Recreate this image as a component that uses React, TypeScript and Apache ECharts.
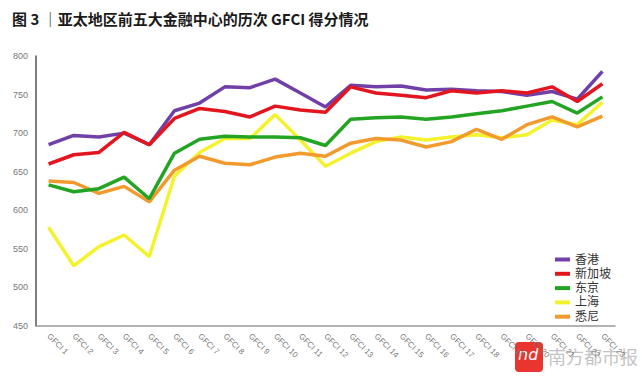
import React, { useEffect, useRef } from "react";
import * as echarts from "echarts";

const categories = [
  "GFCI 1","GFCI 2","GFCI 3","GFCI 4","GFCI 5","GFCI 6","GFCI 7","GFCI 8","GFCI 9","GFCI 10",
  "GFCI 11","GFCI 12","GFCI 13","GFCI 14","GFCI 15","GFCI 16","GFCI 17","GFCI 18","GFCI 19",
  "GFCI 20","GFCI 21","GFCI 22","GFCI 23",
];
const hongKong = [685, 697, 695, 700, 685, 729, 739, 760, 759, 770, 752, 734, 762, 760, 761, 756, 757, 755, 754, 749, 754, 744, 780];
const singapore = [660, 672, 675, 701, 685, 719, 732, 728, 721, 735, 730, 727, 760, 752, 749, 746, 755, 752, 755, 752, 760, 741, 764];
const tokyo = [633, 624, 628, 643, 615, 674, 692, 696, 695, 695, 694, 684, 718, 720, 721, 718, 721, 725, 729, 735, 741, 726, 747];
const shanghai = [578, 528, 553, 568, 540, 644, 675, 693, 693, 724, 691, 657, 674, 689, 695, 691, 695, 698, 694, 698, 717, 711, 740];
const sydney = [638, 636, 622, 631, 611, 652, 670, 661, 659, 669, 674, 670, 687, 693, 691, 682, 689, 705, 692, 711, 721, 708, 722];
const yTicks = [450, 500, 550, 600, 650, 700, 750, 800];

const seriesDefs = [
  { name: "上海", data: shanghai, color: "#f4f22c" },
  { name: "悉尼", data: sydney, color: "#f29a2e" },
  { name: "东京", data: tokyo, color: "#23a523" },
  { name: "香港", data: hongKong, color: "#7040a8" },
  { name: "新加坡", data: singapore, color: "#e3161f" },
];
const legendOrder = ["香港", "新加坡", "东京", "上海", "悉尼"];

export default function App() {
  const ref = useRef<HTMLDivElement>(null);
  useEffect(() => {
    if (!ref.current) return;
    const chart = echarts.init(ref.current, null, { renderer: "svg" });
    chart.setOption({
      animation: false,
      backgroundColor: "#ffffff",
      title: {
        text: "图 3 │亚太地区前五大金融中心的历次 GFCI 得分情况",
        left: 7,
        top: 6,
        textStyle: {
          fontSize: 15,
          fontWeight: "bold",
          color: "#1a1a1a",
          fontFamily: "Noto Sans CJK SC, sans-serif",
        },
      },
      legend: {
        data: legendOrder,
        orient: "vertical",
        left: 550,
        top: 248,
        icon: "rect",
        itemWidth: 15,
        itemHeight: 4,
        itemGap: 1.3,
        textStyle: {
          fontSize: 12,
          lineHeight: 13,
          color: "#333",
          fontFamily: "Liberation Sans, Noto Sans CJK SC, sans-serif",
        },
      },
      grid: { left: 36, right: 26, top: 56, bottom: 50 },
      xAxis: {
        type: "category",
        data: categories,
        boundaryGap: true,
        axisLine: { show: true, lineStyle: { color: "#999", width: 1.5 } },
        axisTick: { show: false },
        axisLabel: { rotate: -45, fontSize: 8, color: "#777", interval: 0, margin: 9 },
      },
      yAxis: {
        type: "value",
        min: 450,
        max: 800,
        interval: 50,
        axisLine: { show: true, lineStyle: { color: "#555", width: 1.5 } },
        axisTick: { show: false },
        splitLine: { show: false },
        axisLabel: {
          fontSize: 9,
          color: "#777",
          margin: 8,
          formatter: (v: number) => (yTicks.includes(v) ? String(v) : ""),
        },
      },
      series: seriesDefs.map((s) => ({
        name: s.name,
        type: "line",
        data: s.data,
        symbol: "none",
        lineStyle: { color: s.color, width: 3.5 },
        itemStyle: { color: s.color },
      })),
      graphic: [
        {
          type: "rect",
          shape: { x: 515, y: 342, width: 28, height: 30, r: 4 },
          style: { fill: "#e8352e" },
        },
        {
          type: "text",
          x: 518,
          y: 346,
          style: { text: "nd", fill: "#ffffff", fontSize: 16, fontStyle: "italic", fontFamily: "DejaVu Sans" },
        },
        {
          type: "text",
          x: 548,
          y: 347,
          style: { text: "南方都市报", fill: "#c4c4c4", fontSize: 18, fontFamily: "Noto Sans CJK SC" },
        },
      ],
    });
    return () => chart.dispose();
  }, []);
  return <div ref={ref} style={{ width: 641, height: 376, position: "absolute", left: 0, top: 0 }} />;
}
